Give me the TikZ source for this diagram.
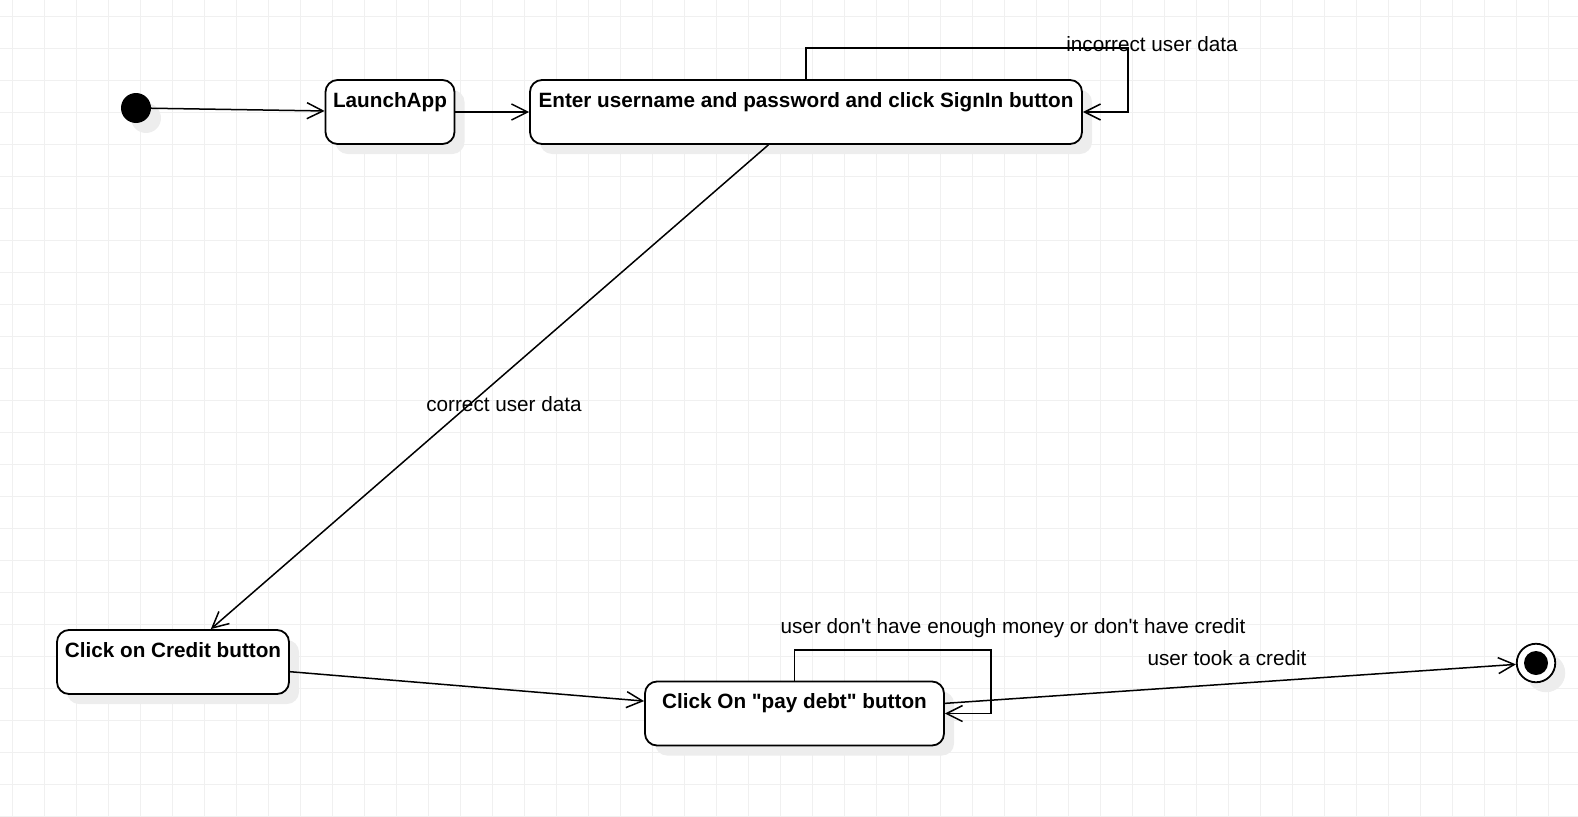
\documentclass[tikz,border=0pt]{standalone}
\usepackage{fontspec}
\setmainfont{Liberation Sans}
\usetikzlibrary{arrows.meta,shadows}

\begin{document}
\begin{tikzpicture}[x=1pt, y=-1pt, font=\fontsize{20.7}{24}\selectfont,
    shade/.style = {drop shadow={shadow xshift=10pt, shadow yshift=-10pt, fill=black!7, opacity=1}},
    main/.style = {draw, rounded corners=12pt, fill=white, line width=1.8pt, inner xsep=0pt, inner ysep=0pt,
                   text height=27pt, text depth=37pt, font=\fontsize{20.7}{24}\selectfont\bfseries, shade},
    init/.style = {circle, fill=black, minimum size=30pt, inner sep=0pt, shade},
    final/.style = {circle, draw, fill=white, line width=1.8pt, minimum size=38.5pt, inner sep=0pt, shade},
    trans/.style = {line width=1.5pt, -{Straight Barb[length=16pt, width=16pt]}}]
			\useasboundingbox (0,0) rectangle (1578,816);
			\begin{scope}
				\clip (0,0) rectangle (1578,816);
				\draw[black!6, line width=0.8pt, step=32pt, shift={(12.3,16)}] (-32,-32) grid (1600,840);
			\end{scope}
			\node[init] (1) at (136,108) {};
			\node[main, minimum width=129pt] (2) at (390,112) {LaunchApp};
			\node[main, minimum width=552pt] (3) at (806,112) {Enter username and password and click SignIn button};
			\node[main, minimum width=232pt] (4) at (173,662) {Click on Credit button};
			\node[main, minimum width=299pt] (5) at (794.5,713.5) {Click On \textquotedbl pay debt\textquotedbl{} button};
			\node[final] (6) at (1536,663) {};
			\node[circle, fill=black, minimum size=24pt, inner sep=0pt] (6d) at (6) {};
			\coordinate (c1) at (1128,48);
			\coordinate (c2) at (991,650);
			\draw[trans] (1) -- (2);
			\draw[trans] (2) -- (3);
			\draw[trans] (3.north) |- (c1) |- (3.east);
			\draw[trans] (3) -- (4);
			\draw[trans] (4) -- (5);
			\draw[trans] (5.north) |- (c2) |- (5.east);
			\draw[trans] (5) -- (6);
			\node[anchor=base] (l1) at (1152,52) {incorrect user data};
			\node[anchor=base] (l2) at (504,411) {correct user data};
			\node[anchor=base] (l3) at (1013,633) {user don\textquotesingle t have enough money or don\textquotesingle t have credit};
			\node[anchor=base] (l4) at (1227,665) {user took a credit};
		\end{tikzpicture}
\end{document}
